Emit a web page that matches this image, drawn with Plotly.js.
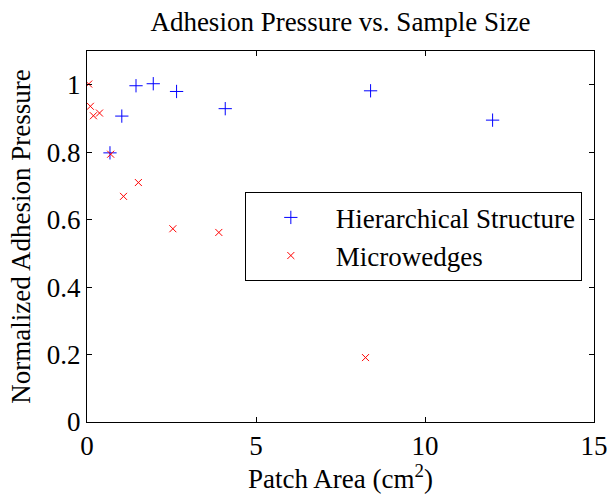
<!DOCTYPE html>
<html>
<head>
<script src="https://cdn.plot.ly/plotly-3.0.1.min.js"></script>
<style>html,body{margin:0;padding:0;background:#fff;}#chart{width:607px;height:494px;}</style>
</head>
<body>
<div id="chart"></div>
<script>
const hierX = [0.68, 1.03, 1.45, 1.96, 2.65, 4.09, 8.39, 12.0];
const hierY = [0.798, 0.907, 0.997, 1.003, 0.98, 0.929, 0.982, 0.895];
const wedgeX = [0.05, 0.10, 0.19, 0.37, 0.70, 1.08, 1.52, 2.54, 3.9, 8.24];
const wedgeY = [1.002, 0.936, 0.908, 0.916, 0.794, 0.669, 0.710, 0.573, 0.562, 0.191];
const seriesNames = ["Hierarchical Structure", "Microwedges"];
const xTicks = [0, 5, 10, 15];
const yTicks = [0, 0.2, 0.4, 0.6, 0.8, 1];
const yTickText = ["0", "0.2", "0.4", "0.6", "0.8", "1"];

const font = '"Liberation Serif", "Times New Roman", Times, serif';
const FS = 27;
const data = [
  {x: hierX, y: hierY, name: seriesNames[0], type: "scatter", mode: "markers",
   marker: {symbol: "cross-thin", size: 9.5, color: "#0000ff", line: {color: "#0000ff", width: 1}}},
  {x: wedgeX, y: wedgeY, name: seriesNames[1], type: "scatter", mode: "markers",
   marker: {symbol: "x-thin", size: 7, color: "#ff0000", line: {color: "#ff0000", width: 1}}}
];
const axisCommon = {showgrid: false, zeroline: false, showline: true, mirror: "ticks",
  linecolor: "#000", linewidth: 1, ticks: "inside", ticklen: 5, tickcolor: "#000",
  ticklabeloverflow: "allow", tickfont: {family: font, size: FS, color: "#000"}};
const layout = {
  width: 607, height: 494,
  margin: {l: 87, r: 13, t: 51, b: 72},
  paper_bgcolor: "#fff", plot_bgcolor: "#fff",
  font: {family: font, color: "#000"},
  title: {text: "Adhesion Pressure vs. Sample Size", font: {family: font, size: FS, color: "#000"},
          x: 0.5, xanchor: "center", y: 0.957, yanchor: "middle", xref: "paper"},
  xaxis: Object.assign({}, axisCommon, {range: [0, 15], tickvals: xTicks,
    title: {text: "Patch Area (cm<sup>2</sup>)", font: {family: font, size: FS, color: "#000"}, standoff: 4}}),
  yaxis: Object.assign({}, axisCommon, {range: [0, 1.1], tickvals: yTicks, ticktext: yTickText,
    title: {text: "Normalized Adhesion Pressure", font: {family: font, size: FS, color: "#000"}, standoff: 8}}),
  showlegend: true,
  legend: {x: 0.976, xanchor: "right", y: 0.499, yanchor: "middle", bgcolor: "#fff",
    bordercolor: "#000", borderwidth: 1, font: {family: font, size: FS, color: "#000"},
    itemwidth: 80, tracegroupgap: 0}
};
Plotly.newPlot("chart", data, layout, {displayModeBar: false, staticPlot: true});
</script>
</body>
</html>
